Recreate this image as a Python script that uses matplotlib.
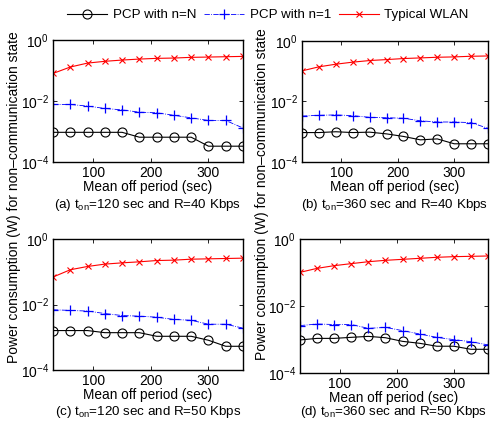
import matplotlib
matplotlib.use("Agg")
import matplotlib.pyplot as plt

plt.rcParams['font.family'] = ['Liberation Sans', 'DejaVu Sans']
plt.rcParams['mathtext.fontset'] = 'custom'
plt.rcParams['mathtext.rm'] = 'Liberation Sans'
plt.rcParams['mathtext.it'] = 'Liberation Sans:italic'
plt.rcParams['mathtext.bf'] = 'Liberation Sans:bold'

off_period = [30, 60, 90, 120, 150, 180, 210, 240, 270, 300, 330, 360]

# (a) t_on=120, R=40
a_nN = [0.00094, 0.00094, 0.00094, 0.00094, 0.00094, 0.00065, 0.00065, 0.00065, 0.00065, 0.00033, 0.00033, 0.00033]
a_n1 = [0.0077, 0.0077, 0.0068, 0.0057, 0.0051, 0.0043, 0.0041, 0.0034, 0.0028, 0.0023, 0.0023, 0.0013]
a_wl = [0.080, 0.13, 0.175, 0.20, 0.22, 0.237, 0.25, 0.256, 0.27, 0.276, 0.283, 0.29]
# (b) t_on=360, R=40
b_nN = [0.00094, 0.00094, 0.0010, 0.00094, 0.00097, 0.00085, 0.0007, 0.00054, 0.00058, 0.0004, 0.0004, 0.0004]
b_n1 = [0.0033, 0.0035, 0.0036, 0.0034, 0.0030, 0.0029, 0.0028, 0.0023, 0.0021, 0.0021, 0.0020, 0.0013]
b_wl = [0.103, 0.14, 0.171, 0.20, 0.226, 0.243, 0.263, 0.276, 0.29, 0.298, 0.313, 0.32]
# (c) t_on=120, R=50
c_nN = [0.0016, 0.0016, 0.0016, 0.00138, 0.00138, 0.00138, 0.00107, 0.00107, 0.00107, 0.00081, 0.00053, 0.00053]
c_n1 = [0.0069, 0.0066, 0.0063, 0.0053, 0.0046, 0.0044, 0.0041, 0.0035, 0.0033, 0.0025, 0.0025, 0.0019]
c_wl = [0.069, 0.115, 0.145, 0.171, 0.187, 0.201, 0.22, 0.226, 0.242, 0.248, 0.254, 0.26]
# (d) t_on=360, R=50
d_nN = [0.00097, 0.00108, 0.00108, 0.00116, 0.00124, 0.00113, 0.00088, 0.00077, 0.00063, 0.00063, 0.00051, 0.00051]
d_n1 = [0.0026, 0.0029, 0.0028, 0.0028, 0.00215, 0.0023, 0.00184, 0.00146, 0.00116, 0.00099, 0.00086, 0.00069]
d_wl = [0.101, 0.133, 0.16, 0.184, 0.21, 0.231, 0.247, 0.265, 0.284, 0.297, 0.304, 0.311]

captions = [r"(a) $\mathrm{t_{on}}$=120 sec and R=40 Kbps",
            r"(b) $\mathrm{t_{on}}$=360 sec and R=40 Kbps",
            r"(c) $\mathrm{t_{on}}$=120 sec and R=50 Kbps",
            r"(d) $\mathrm{t_{on}}$=360 sec and R=50 Kbps"]
series_labels = ["PCP with n=N", "PCP with n=1", "Typical WLAN"]
panels = [(a_nN, a_n1, a_wl), (b_nN, b_n1, b_wl), (c_nN, c_n1, c_wl), (d_nN, d_n1, d_wl)]

W, H = 490, 428
fig = plt.figure(figsize=(W / 100, H / 100), dpi=100)

# pixel boxes: left, top, right, bottom
boxes = [(53, 40, 243, 162), (302, 41, 488, 162), (53, 239, 243, 370), (300, 239, 488, 373)]
cap_off = [43, 43, 42, 39]

handles = None
for i, ((nN, n1, wl), box) in enumerate(zip(panels, boxes)):
    l, t, r, b = box
    ax = fig.add_axes([l / W, 1 - b / H, (r - l) / W, (b - t) / H])
    h1, = ax.plot(off_period, nN, color='black', lw=0.8, marker='o', ms=6.5,
                  mfc='none', mec='black', mew=0.8, label=series_labels[0])
    h2, = ax.plot(off_period, n1, color='blue', lw=0.6, ls='-.', marker='+', ms=7,
                  mew=0.9, label=series_labels[1])
    h3, = ax.plot(off_period, wl, color='red', lw=0.8, marker='x', ms=4.5,
                  mew=0.8, label=series_labels[2])
    handles = [h1, h2, h3]
    ax.set_yscale('log')
    ax.set_ylim(1e-4, 1)
    ax.set_xlim(30, 360)
    ax.set_xticks([100, 200, 300])
    ax.set_yticks([1e-4, 1e-2, 1])
    ax.minorticks_off()
    ax.tick_params(direction='in', length=3, width=0.6, top=True, right=True,
                   labelsize=10, pad=3)
    for s in ax.spines.values():
        s.set_linewidth(1.0)
    ax.set_xlabel("Mean off period (sec)", fontsize=9.8, labelpad=0)
    ax.annotate(captions[i], xy=(0.5, 0), xycoords='axes fraction',
                xytext=(0, -cap_off[i] * 0.72), textcoords='offset points',
                ha='center', va='center', fontsize=9.6)

# column y labels
fig.text(14 / W, 1 - 197 / H, "Power consumption (W) for non\u2013communication state",
         rotation=90, ha='center', va='center', fontsize=10)
fig.text(262 / W, 1 - 194 / H, "Power consumption (W) for non\u2013communication state",
         rotation=90, ha='center', va='center', fontsize=10)

fig.legend(handles, series_labels, loc='center', bbox_to_anchor=(268 / W, 1 - 15 / H),
           ncol=3, frameon=False, fontsize=9.6, handlelength=3.0, columnspacing=0.6,
           handletextpad=0.4)

fig.savefig("out.png", dpi=100)
